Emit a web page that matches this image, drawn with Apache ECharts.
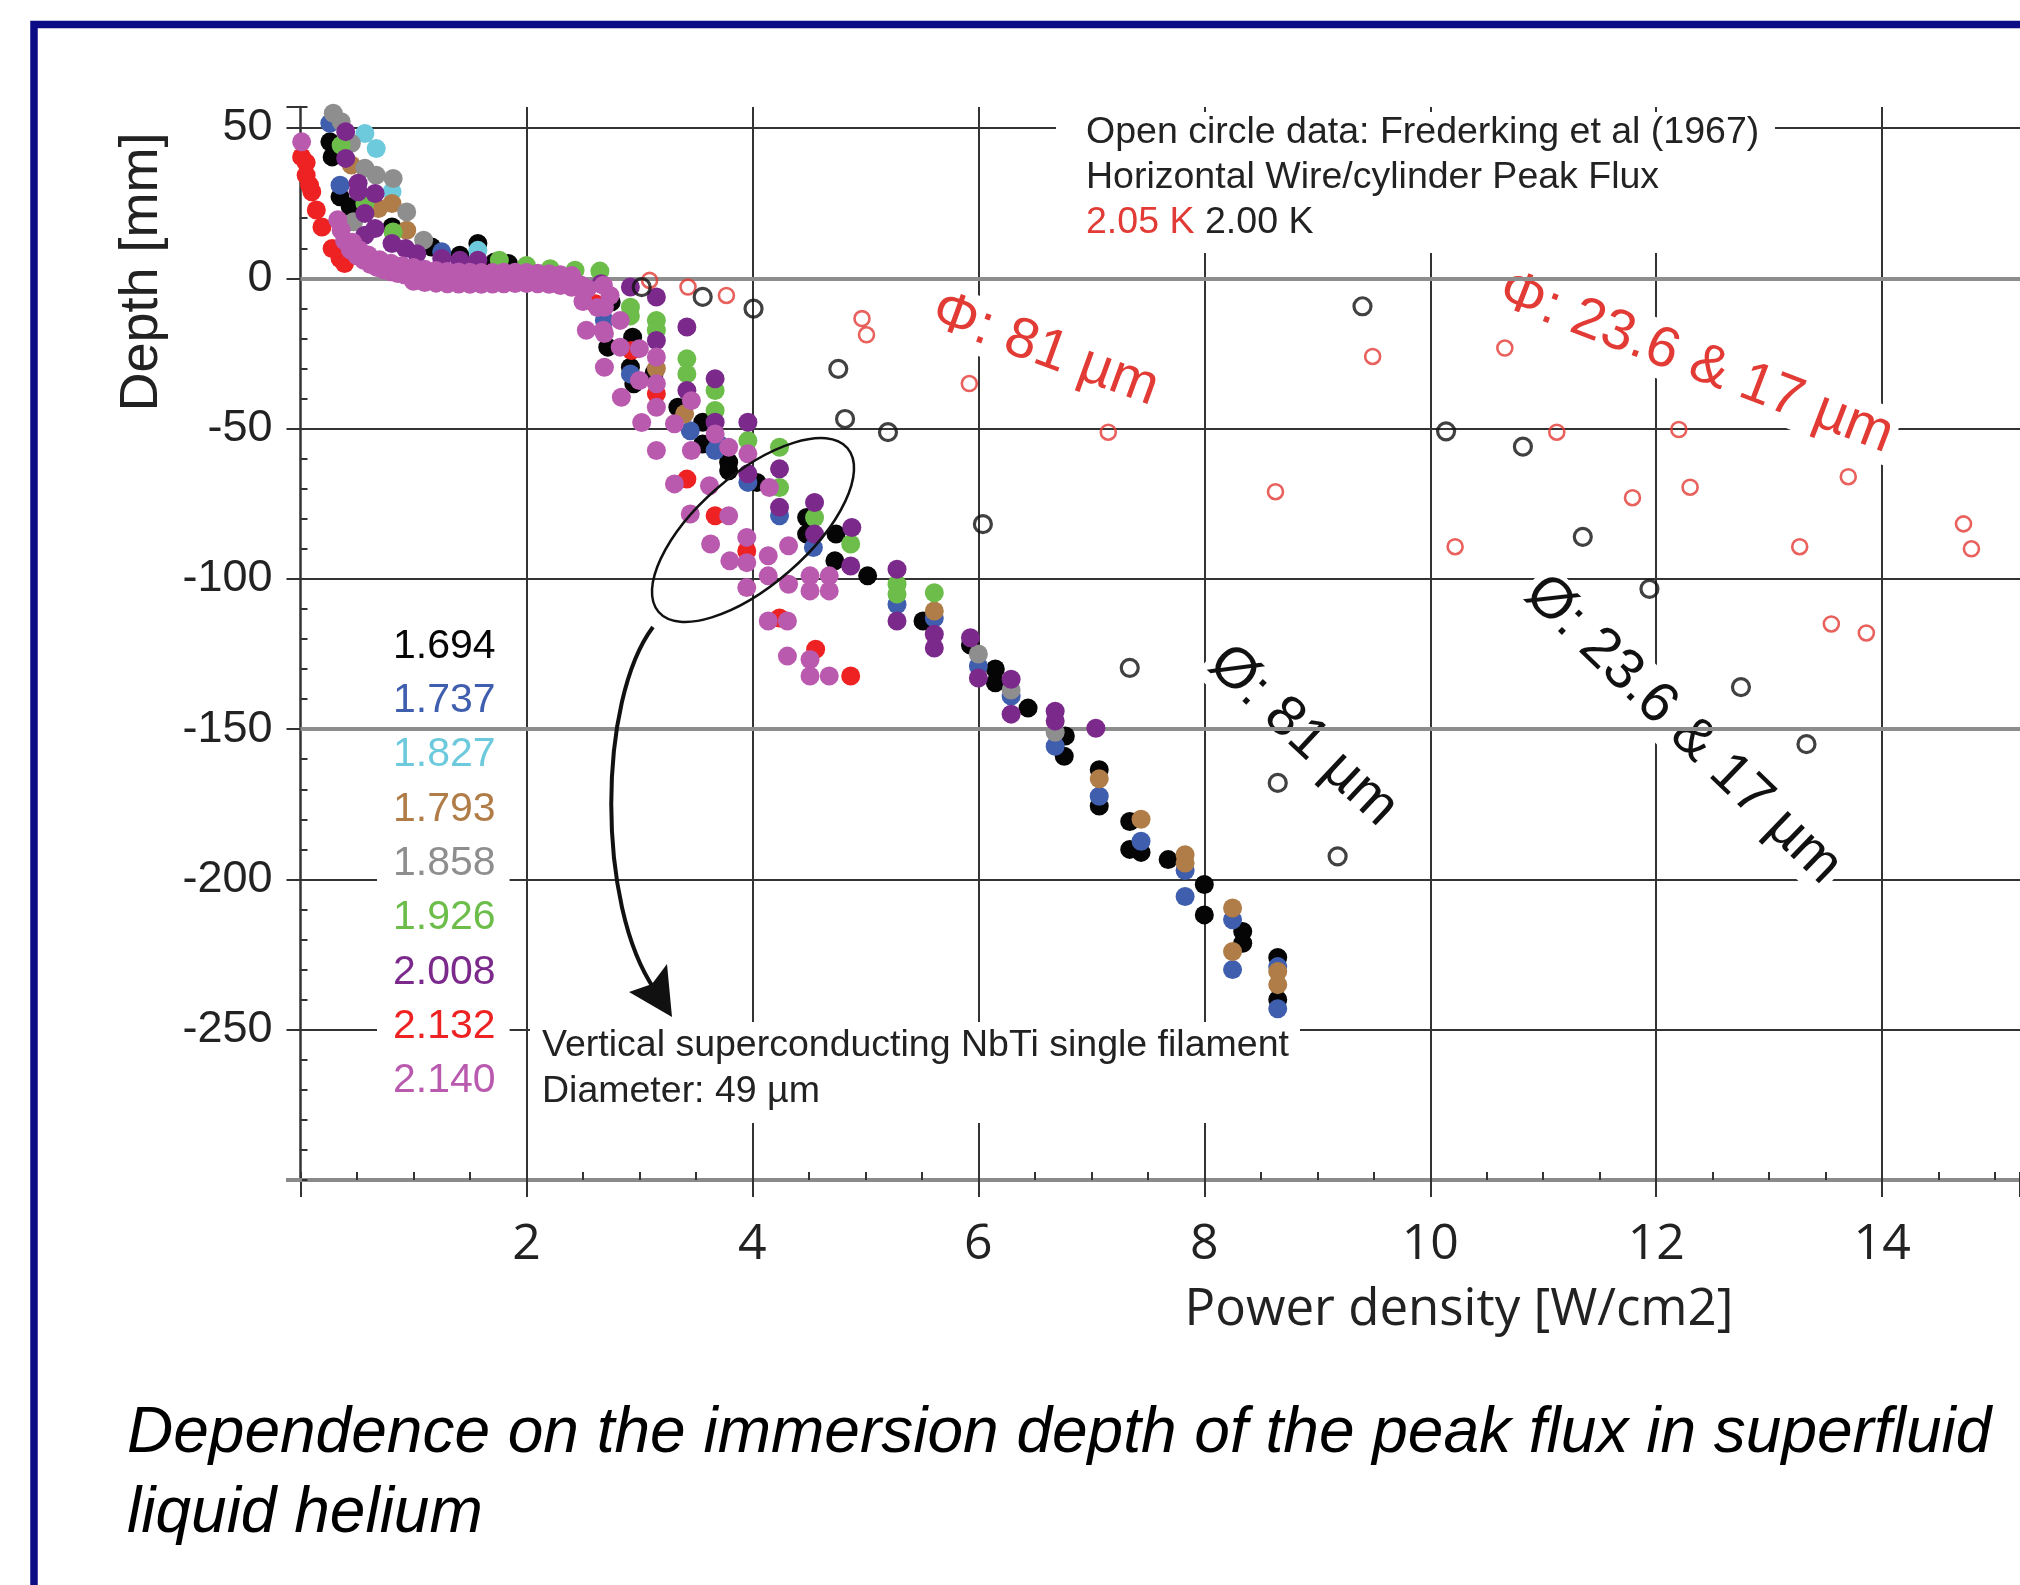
<!DOCTYPE html>
<html>
<head>
<meta charset="utf-8">
<title>Peak flux vs immersion depth in He II</title>
<script src="https://cdn.jsdelivr.net/npm/echarts@6.0.0/dist/echarts.min.js"></script>
<style>
  html, body { margin: 0; padding: 0; background: #fff; }
  #chart { width: 2020px; height: 1585px; }
</style>
</head>
<body>
<div id="chart"></div>
<script>
// bath temperature of each NbTi filament run [K], legend order
const temps = ['1.694', '1.737', '1.827', '1.793', '1.858', '1.926', '2.008', '2.132', '2.140'];
const tempColors = ['#050505', '#3f5eae', '#6dcadc', '#b07d48', '#8e8e8e', '#6cbd4a', '#7b2a8c', '#ee2222', '#b95aae'];

// points are [power density W/cm2, depth mm]
const t1694 = [[0.26, 45.4], [0.28, 40.4], [0.35, 27.1], [0.44, 23.8], [0.81, 17.1], [1.16, 10.4], [1.41, 7.7], [1.57, 11.6],
  [1.72, 5.4], [1.84, 4.9], [2.75, -7.9], [2.72, -22.9], [2.94, -19.6], [2.92, -29.6], [2.95, -35.1], [3.13, -31.5],
  [3.34, -42.9], [3.56, -47.9], [3.56, -55.1], [3.79, -61.2], [3.79, -64], [4.04, -67.9], [4.48, -79.6], [4.48, -85.1],
  [4.74, -85.1], [4.73, -94], [5.02, -99], [5.51, -114], [5.93, -122], [6.15, -130], [6.15, -134.6], [6.44, -143],
  [6.77, -152.3], [6.76, -159], [7.07, -163.5], [7.07, -175.6], [7.34, -180.7], [7.34, -190], [7.44, -191], [7.68, -193.4],
  [8.0, -201.7], [8.0, -211.8], [8.34, -217.3], [8.34, -221.2], [8.65, -226], [8.65, -240]];
const t1737 = [[0.26, 51.6], [0.35, 31], [1.25, 8.8], [2.69, -14], [2.92, -31.8], [3.45, -50.7], [3.7, -55.1], [3.67, -57.3],
  [3.96, -67.9], [4.24, -79], [4.54, -89.6], [5.28, -108.5], [5.61, -113], [6.0, -129], [6.29, -139], [6.68, -155.7],
  [7.07, -172.3], [7.44, -187.3], [7.83, -197], [7.83, -205.7], [8.25, -213.4], [8.25, -230], [8.65, -229], [8.65, -243]];
const t1827 = [[0.57, 48.2], [0.67, 43.2], [0.81, 28.8], [1.57, 9.3]];
const t1793 = [[0.45, 37.7], [0.69, 23.2], [0.81, 24.9], [0.94, 16], [3.15, -30], [3.4, -45.1], [5.61, -110.7], [7.07, -166.5],
  [7.44, -180], [7.83, -191.8], [7.83, -194.5], [8.25, -209.5], [8.25, -224], [8.65, -230.6], [8.65, -235]];
const t1858 = [[0.29, 54.9], [0.36, 52.1], [0.45, 44.9], [0.57, 36.6], [0.67, 34.3], [0.82, 33.2], [0.94, 22.1], [1.09, 12.7],
  [0.47, 18.8], [6.0, -125], [6.29, -137], [6.68, -151]];
const t1926 = [[0.36, 44.3], [0.57, 24.9], [0.82, 15.4], [1.76, 6.0], [2.0, 4.3], [2.21, 3.2], [2.43, 2.7], [2.65, 2.4],
  [2.92, -9.6], [2.92, -12.5], [3.15, -14], [3.15, -17.3], [3.42, -26.8], [3.42, -31.8], [3.67, -37.3], [3.67, -44],
  [3.96, -54], [4.24, -56.2], [4.24, -69.6], [4.55, -79.6], [4.87, -88.4], [5.28, -101.8], [5.28, -105], [5.61, -104.6]];
const t2008 = [[0.4, 48.8], [0.4, 39.9], [0.51, 31.6], [0.51, 28.8], [0.66, 28.2], [0.57, 21.6], [0.66, 16.6], [0.57, 14.3],
  [0.81, 11.6], [0.93, 9.9], [1.03, 8.2], [1.25, 6.6], [1.41, 6], [1.57, 6], [2.66, -1.8], [2.92, -2.9], [3.15, -6.2],
  [3.15, -20.7], [3.42, -16.2], [3.42, -37.3], [3.67, -33.4], [3.67, -47.9], [3.96, -47.9], [3.96, -65], [4.24, -63.4],
  [4.24, -76.2], [4.55, -74.6], [4.55, -85.1], [4.88, -82.9], [4.87, -95.7], [5.28, -96.8], [5.28, -114], [5.61, -118.4],
  [5.61, -123], [5.93, -119.6], [6.0, -133], [6.29, -133.4], [6.29, -145], [6.68, -144], [6.68, -147.3], [7.04, -149.7]];
const t2132 = [[0.01, 40.4], [0.05, 38.5], [0.05, 34.3], [0.08, 31], [0.1, 28.8], [0.14, 22.7], [0.19, 17.1], [0.28, 9.9],
  [0.35, 6.6], [0.39, 4.9], [2.61, -8.5], [2.93, -24], [3.15, -38.4], [3.42, -66.8], [3.67, -79], [3.95, -90.7],
  [4.24, -113], [4.56, -123.4], [4.87, -132.3]];
const t2140 = [[0.01, 45.4], [0.33, 19.5], [0.36, 16], [0.39, 12.5], [0.44, 9.5], [0.5, 7.5], [0.56, 6], [0.62, 4.6],
  [0.68, 3.6], [0.74, 2.8], [0.8, 2.2], [0.86, 1.6], [0.92, 1.2], [0.98, 0.8], [1.04, 0.5], [1.1, 0.3], [1.16, 0.1],
  [1.22, 0], [1.28, -0.2], [1.34, -0.3], [1.4, -0.4], [1.46, -0.4], [1.52, -0.5], [1.58, -0.5], [1.64, -0.4], [1.7, -0.4],
  [1.76, -0.3], [1.82, -0.3], [1.88, -0.2], [1.94, -0.2], [2.0, -0.3], [2.06, -0.4], [2.12, -0.5], [2.18, -0.6],
  [2.24, -0.8], [2.3, -1.0], [2.36, -1.2], [2.42, -1.6], [2.48, -2.2], [2.54, -3.4],
  [0.46, 12], [0.52, 9.5], [0.6, 7.8], [0.7, 6.2], [0.8, 5], [0.9, 4.2], [1.0, 3.6], [1.1, 3], [1.2, 2.6], [1.3, 2.3],
  [1.4, 2.1], [1.5, 2.0], [1.6, 1.9], [1.7, 1.9], [1.8, 2.0], [1.9, 2.0], [2.0, 1.9], [2.1, 1.7], [2.2, 1.5], [2.3, 1.2],
  [2.4, 0.9], [1.0, -1], [1.1, -1.4], [1.2, -1.6], [1.3, -1.8], [1.4, -1.9], [1.5, -2], [1.6, -2], [1.7, -1.9],
  [1.8, -1.8], [1.9, -1.7], [2.0, -1.7], [2.1, -1.8], [2.2, -2], [2.3, -2.4], [2.4, -3],
  [2.5, -7.7], [2.63, -9.7], [2.68, -2.3], [2.74, -5.7], [2.69, -9.6], [2.53, -17.3], [2.68, -17.3], [2.69, -18.4],
  [2.83, -14], [2.83, -22.9], [2.69, -29.6], [2.84, -39.6], [3.0, -23.4], [3.0, -34], [3.02, -48], [3.15, -26.2],
  [3.15, -35.1], [3.15, -42.9], [3.15, -57.3], [3.31, -48.4], [3.31, -68.4], [3.46, -40.7], [3.46, -57.3], [3.45, -78.4],
  [3.62, -69], [3.67, -51.8], [3.79, -56.2], [3.79, -79], [3.63, -88.4], [3.8, -94], [3.95, -86.2], [3.95, -94.6],
  [3.95, -102.9], [3.96, -58.4], [4.15, -69.6], [4.14, -92.3], [4.14, -99], [4.32, -89], [4.32, -101.8], [4.51, -99],
  [4.68, -99], [4.51, -104], [4.68, -104], [4.14, -114], [4.31, -114], [4.31, -125.7], [4.51, -126.8], [4.51, -132.3],
  [4.68, -132.3]];

// open circles: Frederking et al (1967), horizontal wire / cylinder
const frederking205 = [[3.09, -0.7], [3.43, -2.9], [3.77, -5.7], [4.97, -13.4], [5.01, -18.8], [5.92, -35], [7.15, -51.2],
  [8.63, -71], [9.49, -26], [10.22, -89.3], [10.66, -23.2], [11.12, -51.2], [11.79, -73], [12.2, -50.3], [12.3, -69.5],
  [13.27, -89.3], [13.55, -115], [13.86, -118], [13.7, -66], [14.72, -81.7], [14.79, -90]];
const frederking200 = [[3.02, -2.9], [3.56, -6.2], [4.01, -10.1], [4.76, -30.1], [4.82, -46.8], [5.2, -51.2], [6.04, -81.8],
  [7.34, -129.6], [8.65, -167.9], [9.18, -192.3], [9.4, -9.3], [10.14, -50.9], [10.82, -56], [11.35, -86], [11.94, -103.3],
  [12.75, -136], [13.33, -155]];

const filled = [t1694, t1737, t1827, t1793, t1858, t1926, t2008, t2132, t2140];

const xMin = 0, xMax = 15.22, yMin = -300, yMax = 57;

const SANS = "'Liberation Sans', Arial, sans-serif";
const OPEN = "'Open Sans', sans-serif";
const RED = '#e23a34';

const chart = echarts.init(document.getElementById('chart'));

const series = temps.map((name, i) => ({
    name: name,
    type: 'scatter',
    data: filled[i],
    symbolSize: 19,
    z: 10,
    silent: true,
    itemStyle: { color: tempColors[i], opacity: 1 }
}));

series.push({
    name: 'Frederking 2.05 K',
    type: 'scatter',
    data: frederking205,
    symbolSize: 15,
    z: 11,
    silent: true,
    itemStyle: { color: 'rgba(0,0,0,0)', borderColor: RED, borderWidth: 2.6 }
});
series.push({
    name: 'Frederking 2.00 K',
    type: 'scatter',
    data: frederking200,
    symbolSize: 17,
    z: 11,
    silent: true,
    itemStyle: { color: 'rgba(0,0,0,0)', borderColor: '#111', borderWidth: 3.2 }
});
// the two lighter, heavier grid lines
series.push({
    type: 'line',
    data: [],
    z: 1,
    silent: true,
    markLine: {
        silent: true,
        symbol: 'none',
        label: { show: false },
        lineStyle: { color: '#8d8d8d', width: 4, type: 'solid' },
        data: [{ yAxis: 0 }, { yAxis: -150 }]
    }
});

// white boxes that cut the grid behind the annotations
function textBox(text, x, y, size, color, rotation, family) {
    return {
        type: 'text', x: x, y: y, rotation: rotation || 0, z: 5, silent: true,
        style: {
            text: text, fontSize: size, fontFamily: family || SANS, fill: color,
            align: 'center', verticalAlign: 'middle', backgroundColor: '#fff', padding: [0, 4]
        }
    };
}
function plainText(text, x, y, size, color, extra) {
    return {
        type: 'text', x: x, y: y, z: 6, silent: true,
        style: Object.assign({
            text: text, fontSize: size, fontFamily: SANS, fill: color,
            align: 'left', verticalAlign: 'middle'
        }, extra || {})
    };
}

const deg = Math.PI / 180;

const graphic = [
    // page frame
    { type: 'rect', z: 30, silent: true, shape: { x: 34, y: 24.5, width: 2200, height: 1800 },
      style: { fill: 'none', stroke: '#0c0c84', lineWidth: 7.5 } },
    // x axis line runs a little left of the y axis
    { type: 'line', z: 4, silent: true, shape: { x1: 286, y1: 1180, x2: 302, y2: 1180 },
      style: { stroke: '#8a8a8a', lineWidth: 4 } },
    // annotation boxes
    { type: 'rect', z: 5, silent: true, shape: { x: 1056, y: 112, width: 719, height: 141 }, style: { fill: '#fff' } },
    plainText('Open circle data: Frederking et al (1967)', 1086, 133, 37.5, '#222'),
    plainText('Horizontal Wire/cylinder Peak Flux', 1086, 178, 37.5, '#222'),
    plainText('2.05 K', 1086, 223, 37.5, RED),
    plainText('2.00 K', 1205, 223, 37.5, '#222'),
    { type: 'rect', z: 5, silent: true, shape: { x: 530, y: 1022, width: 770, height: 101 }, style: { fill: '#fff' } },
    plainText('Vertical superconducting NbTi single filament', 542, 1046, 37.5, '#222'),
    plainText('Diameter: 49 µm', 542, 1092, 37.5, '#222'),
    // diameter labels along the curves
    textBox('Φ: 81 µm', 1045, 350, 57, RED, -20 * deg),
    textBox('Φ: 23.6 & 17 µm', 1696, 363, 57, RED, -21 * deg),
    textBox('Ø: 81 µm', 1303, 736, 57, '#111', -43 * deg),
    textBox('Ø: 23.6 & 17 µm', 1683, 730, 57, '#111', -44 * deg),
    // highlighted region and arrow to the filament note
    { type: 'ellipse', z: 20, silent: true, x: 753, y: 530, rotation: 41 * deg,
      shape: { cx: 0, cy: 0, rx: 125, ry: 55 }, style: { fill: 'none', stroke: '#111', lineWidth: 2.5 } },
    { type: 'bezierCurve', z: 20, silent: true,
      shape: { x1: 653, y1: 627, cpx1: 598, cpy1: 700, cpx2: 596, cpy2: 905, x2: 655, y2: 990 },
      style: { fill: 'none', stroke: '#111', lineWidth: 4 } },
    { type: 'polygon', z: 20, silent: true,
      shape: { points: [[672, 1017], [629, 992], [652, 984], [667, 964]] },
      style: { fill: '#111' } },
    // axis titles
    { type: 'text', z: 6, silent: true, x: 142, y: 272, rotation: 90 * deg,
      style: { text: 'Depth [mm]', fontSize: 54, fontFamily: SANS, fill: '#222', align: 'center', verticalAlign: 'middle' } },
    { type: 'text', z: 6, silent: true, x: 1459, y: 1310,
      style: { text: 'Power density [W/cm2]', fontSize: 51, fontFamily: OPEN, fill: '#222', align: 'center', verticalAlign: 'middle' } },
    // caption
    plainText('Dependence on the immersion depth of the peak flux in superfluid', 127, 1434, 64, '#000', { fontStyle: 'italic' }),
    plainText('liquid helium', 127, 1514, 64, '#000', { fontStyle: 'italic' })
];

const option = {
    animation: false,
    backgroundColor: '#fff',
    grid: { left: 300.5, top: 107, right: 0, bottom: 405, outerBoundsMode: 'none' },
    legend: {
        data: temps.map((n, i) => ({ name: n, textStyle: { color: tempColors[i] } })),
        orient: 'vertical',
        left: 377,
        top: 618,
        icon: 'none',
        itemWidth: 0,
        itemHeight: 40,
        itemGap: 13.3,
        padding: [8, 14, 8, 11],
        backgroundColor: '#fff',
        selectedMode: false,
        textStyle: { fontSize: 41, lineHeight: 40, fontFamily: SANS }
    },
    xAxis: [{
        type: 'value', min: xMin, max: xMax, interval: 2, position: 'bottom',
        axisLine: { show: true, onZero: false, lineStyle: { color: '#8a8a8a', width: 4 } },
        axisTick: { show: true, inside: false, length: 17, lineStyle: { color: '#333', width: 2 } },
        axisLabel: {
            margin: 40, fontSize: 50, fontFamily: OPEN, color: '#222',
            formatter: v => (v > 0 && v < 15 && Math.abs(v % 2) < 1e-6) ? String(v) : ''
        },
        splitLine: { show: true, showMinLine: false, showMaxLine: false, lineStyle: { color: '#333', width: 2 } }
    }, {
        type: 'value', min: xMin, max: xMax, interval: 0.5, position: 'bottom',
        axisLine: { show: false, onZero: false },
        axisTick: { show: true, inside: true, length: 8, lineStyle: { color: '#333', width: 2 } },
        axisLabel: { show: false },
        splitLine: { show: false }
    }],
    yAxis: [{
        type: 'value', min: yMin, max: yMax, interval: 50, position: 'left',
        axisLine: { show: true, onZero: false, lineStyle: { color: '#333', width: 2.5 } },
        axisTick: { show: true, inside: false, length: 14, lineStyle: { color: '#333', width: 2 } },
        axisLabel: {
            margin: 28, fontSize: 45, fontFamily: SANS, color: '#222',
            formatter: v => (v > -300 && v <= 50 && v % 50 === 0) ? String(v) : ''
        },
        splitLine: { show: true, showMinLine: false, showMaxLine: false, lineStyle: { color: '#333', width: 2 } }
    }, {
        type: 'value', min: yMin, max: yMax, interval: 10, position: 'left',
        axisLine: { show: false, onZero: false },
        axisTick: { show: true, inside: true, length: 7, lineStyle: { color: '#333', width: 2 } },
        axisLabel: { show: false },
        splitLine: { show: false }
    }],
    series: series,
    graphic: graphic
};

chart.setOption(option);

window.addEventListener('resize', () => chart.resize());
</script>
</body>
</html>
